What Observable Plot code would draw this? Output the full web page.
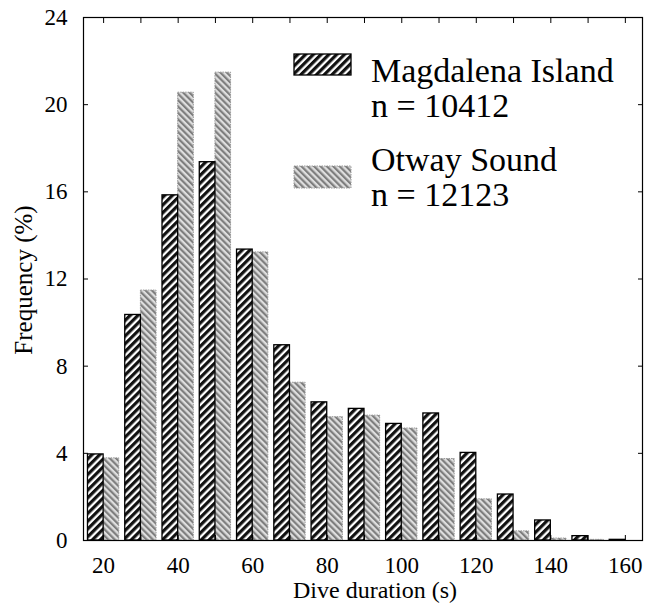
<!DOCTYPE html>
<html><head><meta charset="utf-8">
<script src="https://cdn.jsdelivr.net/npm/d3@7"></script>
<script src="https://cdn.jsdelivr.net/npm/@observablehq/plot@0.6"></script>
<style>body{margin:0;background:#fff} #chart svg{font-family:"Liberation Serif","Times New Roman",serif}</style>
</head><body><div id="chart"></div>
<script>
// Bin centres (s)
const bins = [20, 30, 40, 50, 60, 70, 80, 90, 100, 110, 120, 130, 140, 150, 160];
// Frequency (%) per bin
const magdalena = [3.95, 10.35, 15.84, 17.36, 13.35, 8.96, 6.34, 6.04, 5.35, 5.83, 4.02, 2.11, 0.92, 0.2, 0.03];
const otway = [3.77, 11.47, 20.55, 21.47, 13.22, 7.24, 5.66, 5.73, 5.14, 3.74, 1.89, 0.42, 0.09, 0.03, 0];
const seriesNames = ["Magdalena Island", "Otway Sound"];
const seriesN = ["n = 10412", "n = 12123"];
const xTickLabels = [20, 40, 60, 80, 100, 120, 140, 160];
const xTicks = [20, 30, 40, 50, 60, 70, 80, 90, 100, 110, 120, 130, 140, 150, 160];
const yTicks = [0, 4, 8, 12, 16, 20, 24];

const half = 4.2; // bar width in seconds
const darkRows = bins.map((b, i) => ({bin: b, value: magdalena[i], series: seriesNames[0]}));
const lightRows = bins.map((b, i) => ({bin: b, value: otway[i], series: seriesNames[1]}));

const font = "'Liberation Serif','Times New Roman',serif";
const chart = Plot.plot({
  width: 655,
  height: 603,
  marginLeft: 83,
  marginRight: 13,
  marginTop: 17,
  marginBottom: 63,
  style: {fontSize: "23px", fontFamily: font, color: "#000", background: "#fff"},
  x: {domain: [14.6, 164.6]},
  y: {domain: [0, 24]},
  marks: [
    Plot.rectY(lightRows, {x1: d => d.bin, x2: d => d.bin + half, y: "value", fill: "url(#hatchLight)", stroke: "#999", strokeWidth: 1, strokeDasharray: "1.5,1"}),
    Plot.rectY(darkRows, {x1: d => d.bin - half, x2: d => d.bin, y: "value", fill: "url(#hatchDark)", stroke: "#000", strokeWidth: 1.3}),
    Plot.frame({stroke: "#000", strokeWidth: 1.2}),
    Plot.axisX({ticks: xTicks, tickSize: -5, tickPadding: 21, fontSize: 23, tickFormat: d => xTickLabels.includes(d) ? String(d) : "",
      label: null}),
    Plot.axisX({anchor: "top", ticks: xTicks, tickSize: -5, tickFormat: () => "", label: null}),
    Plot.axisY({ticks: yTicks, tickSize: -5, tickPadding: 21, fontSize: 23, tickFormat: d => String(d), label: null}),
    Plot.axisY({anchor: "right", ticks: yTicks, tickSize: -5, tickFormat: () => "", label: null})
  ]
});

document.getElementById("chart").appendChild(chart);

const svg = d3.select(chart);
const defs = svg.insert("defs", ":first-child");
const pd = defs.append("pattern").attr("id", "hatchDark").attr("patternUnits", "userSpaceOnUse")
  .attr("width", 5.5).attr("height", 5.5).attr("patternTransform", "rotate(45)");
pd.append("rect").attr("width", 5.5).attr("height", 5.5).attr("fill", "#fff");
pd.append("rect").attr("width", 3.2).attr("height", 5.5).attr("fill", "#111");
const pl = defs.append("pattern").attr("id", "hatchLight").attr("patternUnits", "userSpaceOnUse")
  .attr("width", 4.5).attr("height", 4.5).attr("patternTransform", "rotate(-45)");
pl.append("rect").attr("width", 4.5).attr("height", 4.5).attr("fill", "#dedede");
pl.append("rect").attr("width", 2.2).attr("height", 4.5).attr("fill", "#7e7e7e");

// Axis titles
const at = svg.append("g").attr("font-family", font).attr("fill", "#000").attr("text-anchor", "middle");
at.append("text").attr("x", 375).attr("y", 598).attr("font-size", 24).text("Dive duration (s)");
at.append("text").attr("transform", "translate(32,280) rotate(-90)").attr("font-size", 25).text("Frequency (%)");

// Legend
const lg = svg.append("g").attr("font-family", font).attr("font-size", 34).attr("fill", "#000").attr("text-anchor", "start");
lg.append("rect").attr("x", 294).attr("y", 54).attr("width", 57).attr("height", 21).attr("fill", "url(#hatchDark)").attr("stroke", "#000").attr("stroke-width", 1.3);
lg.append("rect").attr("x", 294).attr("y", 166).attr("width", 57).attr("height", 22).attr("fill", "url(#hatchLight)").attr("stroke", "#999").attr("stroke-dasharray", "1.5,1");
lg.append("text").attr("x", 371).attr("y", 82).text(seriesNames[0]);
lg.append("text").attr("x", 371).attr("y", 117).text(seriesN[0]);
lg.append("text").attr("x", 371).attr("y", 171).text(seriesNames[1]);
lg.append("text").attr("x", 371).attr("y", 206).text(seriesN[1]);
</script>
</body></html>
